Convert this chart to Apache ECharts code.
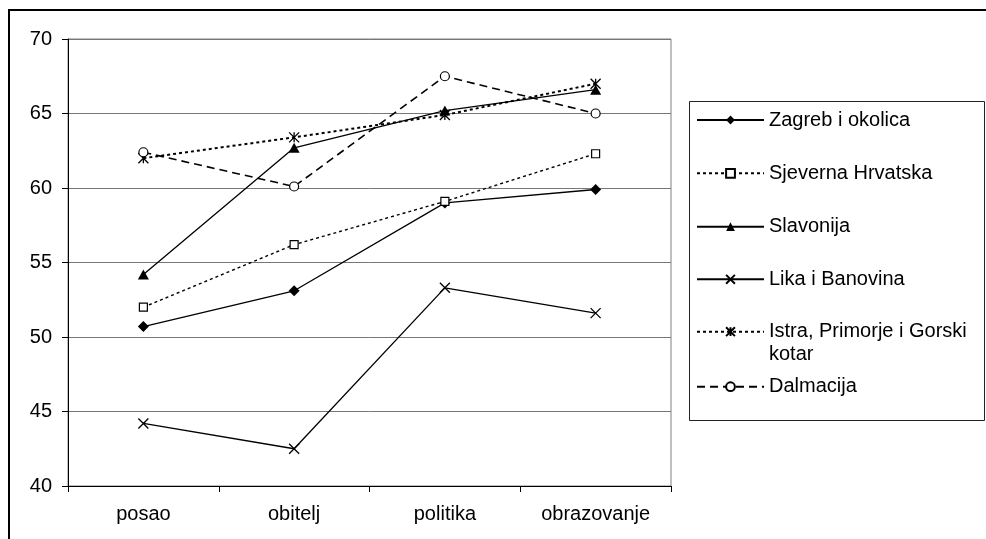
<!DOCTYPE html>
<html><head><meta charset="utf-8">
<script src="https://cdn.jsdelivr.net/npm/echarts@6/dist/echarts.min.js"></script>
<style>html,body{margin:0;padding:0;background:#fff}#c{width:986px;height:539px}</style>
</head><body><div id="c"></div>
<script>
// ---- data ----
const categories = ['posao', 'obitelj', 'politika', 'obrazovanje'];
const seriesNames = ['Zagreb i okolica', 'Sjeverna Hrvatska', 'Slavonija', 'Lika i Banovina', 'Istra, Primorje i Gorski kotar', 'Dalmacija'];
const zagreb = [50.7, 53.1, 59.0, 59.9];
const sjeverna = [52.0, 56.2, 59.1, 62.3];
const slavonija = [54.2, 62.7, 65.2, 66.6];
const lika = [44.2, 42.5, 53.3, 51.6];
const istra = [62.0, 63.4, 64.9, 67.0];
const dalmacija = [62.4, 60.1, 67.5, 65.0];
const yMin = 40, yMax = 70, yStep = 5;

// ---- styles ----
const FONT = '"Liberation Sans", Arial, sans-serif';
const X_PATH = 'path://M0,0L10,10M10,0L0,10';
const STAR_PATH = 'path://M0,0L10,10M10,0L0,10M5,0L5,10';
const values = [zagreb, sjeverna, slavonija, lika, istra, dalmacija];
const styles = [
  {symbol: 'diamond', size: 11, item: {color: '#000'}, line: {width: 1.3, type: 'solid'}},
  {symbol: 'rect', size: 8, item: {color: '#fff', borderColor: '#000', borderWidth: 1.2}, line: {width: 1.4, type: [3, 3]}},
  {symbol: 'triangle', size: [11, 10], item: {color: '#000'}, line: {width: 1.3, type: 'solid'}},
  {symbol: X_PATH, size: 10, item: {color: 'none', borderColor: '#000', borderWidth: 1.3}, line: {width: 1.3, type: 'solid'}},
  {symbol: STAR_PATH, size: 10, item: {color: 'none', borderColor: '#000', borderWidth: 1.3}, line: {width: 2, type: [3, 3]}},
  {symbol: 'circle', size: 9, item: {color: '#fff', borderColor: '#000', borderWidth: 1.2}, line: {width: 1.6, type: [8, 5]}}
];
const legendCenters = [120, 173.3, 226.7, 279.3, 331.7, 386.7];

const series = seriesNames.map((name, i) => ({
  name, type: 'line', data: values[i],
  symbol: styles[i].symbol, symbolSize: styles[i].size,
  itemStyle: Object.assign({}, styles[i].item),
  lineStyle: Object.assign({color: '#000'}, styles[i].line),
  emphasis: {disabled: true}, silent: true, animation: false
}));

const legends = seriesNames.map((name, i) => {
  const twoLine = name.indexOf('Gorski kotar') >= 0;
  return {
    data: [name], orient: 'vertical', left: 696,
    top: legendCenters[i] - (twoLine ? 34.5 : 11.5),
    padding: 0, itemGap: 0, itemWidth: 67, itemHeight: 11,
    selectedMode: false,
    // blank first line keeps the icon level with the first text line
    formatter: n => n === 'Istra, Primorje i Gorski kotar' ? ' \nIstra, Primorje i Gorski\nkotar' : n,
    textStyle: {fontSize: 20, lineHeight: 23, color: '#000', fontFamily: FONT}
  };
});

const chart = echarts.init(document.getElementById('c'), null, {renderer: 'canvas'});
chart.setOption({
  animation: false,
  backgroundColor: '#fff',
  grid: {left: 68, right: 315, top: 39, bottom: 53, show: true, borderColor: '#808080', borderWidth: 1},
  xAxis: {
    type: 'category', data: categories, boundaryGap: true,
    axisLine: {lineStyle: {color: '#000', width: 1}},
    axisTick: {show: true, length: 6, lineStyle: {color: '#000'}},
    axisLabel: {fontSize: 20, color: '#000', fontFamily: FONT, margin: 18},
    splitLine: {show: false}
  },
  yAxis: {
    type: 'value', min: yMin, max: yMax, interval: yStep,
    axisLine: {show: true, lineStyle: {color: '#000', width: 1}},
    axisTick: {show: true, length: 6, lineStyle: {color: '#000'}},
    axisLabel: {fontSize: 20, color: '#000', fontFamily: FONT, margin: 16},
    splitLine: {show: true, lineStyle: {color: '#777', width: 1}}
  },
  legend: legends,
  series,
  graphic: [
    {type: 'rect', shape: {x: 9, y: 10, width: 1200, height: 800}, style: {fill: 'none', stroke: '#000', lineWidth: 2}, silent: true},
    {type: 'rect', shape: {x: 689.5, y: 101.5, width: 295, height: 319}, style: {fill: 'none', stroke: '#222', lineWidth: 1}, silent: true, z: -1}
  ]
});
</script></body></html>
